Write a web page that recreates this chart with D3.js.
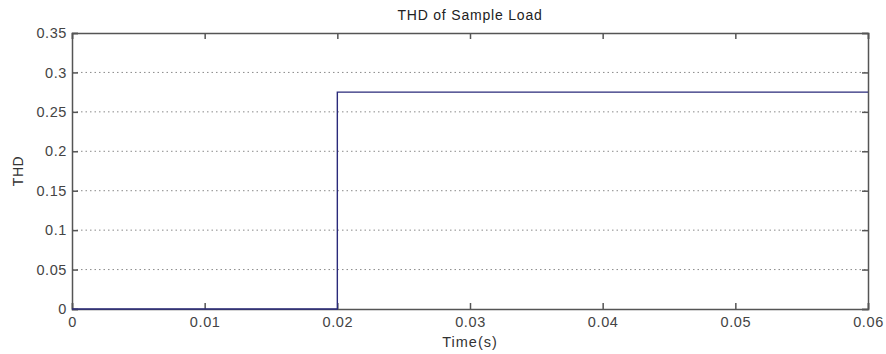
<!DOCTYPE html>
<html>
<head>
<meta charset="utf-8">
<script src="https://cdn.jsdelivr.net/npm/d3@7"></script>
<style>
  body { margin: 0; background: #fff; }
  svg { font-family: "Liberation Sans", Arial, sans-serif; }
</style>
</head>
<body>
<div id="chart"></div>
<script>
// THD step data
const times = [0, 0.02, 0.02, 0.06];
const thd = [0, 0, 0.275, 0.275];
const xTicks = [0, 0.01, 0.02, 0.03, 0.04, 0.05, 0.06];
const yTicks = [0, 0.05, 0.1, 0.15, 0.2, 0.25, 0.3, 0.35];

const W = 886, H = 354;
const margin = { top: 33, right: 18, bottom: 45, left: 72 };
const width = W - margin.left - margin.right;
const height = H - margin.top - margin.bottom;

const svg = d3.select("#chart").append("svg")
    .attr("width", W)
    .attr("height", H);

const g = svg.append("g")
    .attr("transform", `translate(${margin.left},${margin.top})`);

const x = d3.scaleLinear().domain([0, 0.06]).range([0, width]);
const y = d3.scaleLinear().domain([0, 0.35]).range([height, 0]);

// Grid lines (horizontal, dotted)
g.append("g")
    .selectAll("line")
    .data(yTicks.filter(d => d > 0 && d < 0.35))
    .enter().append("line")
    .attr("x1", 0)
    .attr("x2", width)
    .attr("y1", d => y(d))
    .attr("y2", d => y(d))
    .attr("stroke", "#8a8a8a")
    .attr("stroke-width", 1)
    .attr("stroke-dasharray", "1.5,3");

const axisColor = "#555";
const labelColor = "#444";

// Bottom axis, ticks inside
g.append("g")
    .attr("transform", `translate(0,${height})`)
    .call(d3.axisBottom(x).tickValues(xTicks).tickSize(-6).tickPadding(8)
        .tickFormat(d => d === 0 ? "0" : d3.format(".2f")(d)));

// Left axis, ticks inside
g.append("g")
    .call(d3.axisLeft(y).tickValues(yTicks).tickSize(-6).tickPadding(5)
        .tickFormat(d => d === 0 ? "0" : String(+d.toFixed(2))));

// Top and right mirrored ticks
g.append("g")
    .call(d3.axisTop(x).tickValues(xTicks).tickSize(-6).tickFormat(""));
g.append("g")
    .attr("transform", `translate(${width},0)`)
    .call(d3.axisRight(y).tickValues(yTicks).tickSize(-6).tickFormat(""));

g.selectAll(".domain").attr("stroke", axisColor).attr("stroke-width", 1.5);
g.selectAll(".tick line").attr("stroke", axisColor).attr("stroke-width", 1.5);
g.selectAll(".tick text")
    .attr("fill", labelColor)
    .attr("font-size", 14.5)
    .attr("letter-spacing", "0.6px");

// Step line
const line = d3.line()
    .x((d, i) => x(times[i]))
    .y(d => y(d));

g.append("path")
    .datum(thd)
    .attr("fill", "none")
    .attr("stroke", "#2a2a7a")
    .attr("stroke-width", 1.4)
    .attr("d", line);

// Title and axis labels
svg.append("text")
    .attr("x", margin.left + width / 2)
    .attr("y", 20)
    .attr("text-anchor", "middle")
    .attr("font-size", 14)
    .attr("letter-spacing", "0.8px")
    .attr("fill", "#222")
    .text("THD of Sample Load");

svg.append("text")
    .attr("x", margin.left + width / 2)
    .attr("y", 347)
    .attr("text-anchor", "middle")
    .attr("font-size", 14.5)
    .attr("letter-spacing", "1px")
    .attr("fill", "#333")
    .text("Time(s)");

svg.append("text")
    .attr("transform", `translate(23,${margin.top + height / 2}) rotate(-90)`)
    .attr("text-anchor", "middle")
    .attr("font-size", 14)
    .attr("letter-spacing", "0.5px")
    .attr("fill", "#333")
    .text("THD");
</script>
</body>
</html>
